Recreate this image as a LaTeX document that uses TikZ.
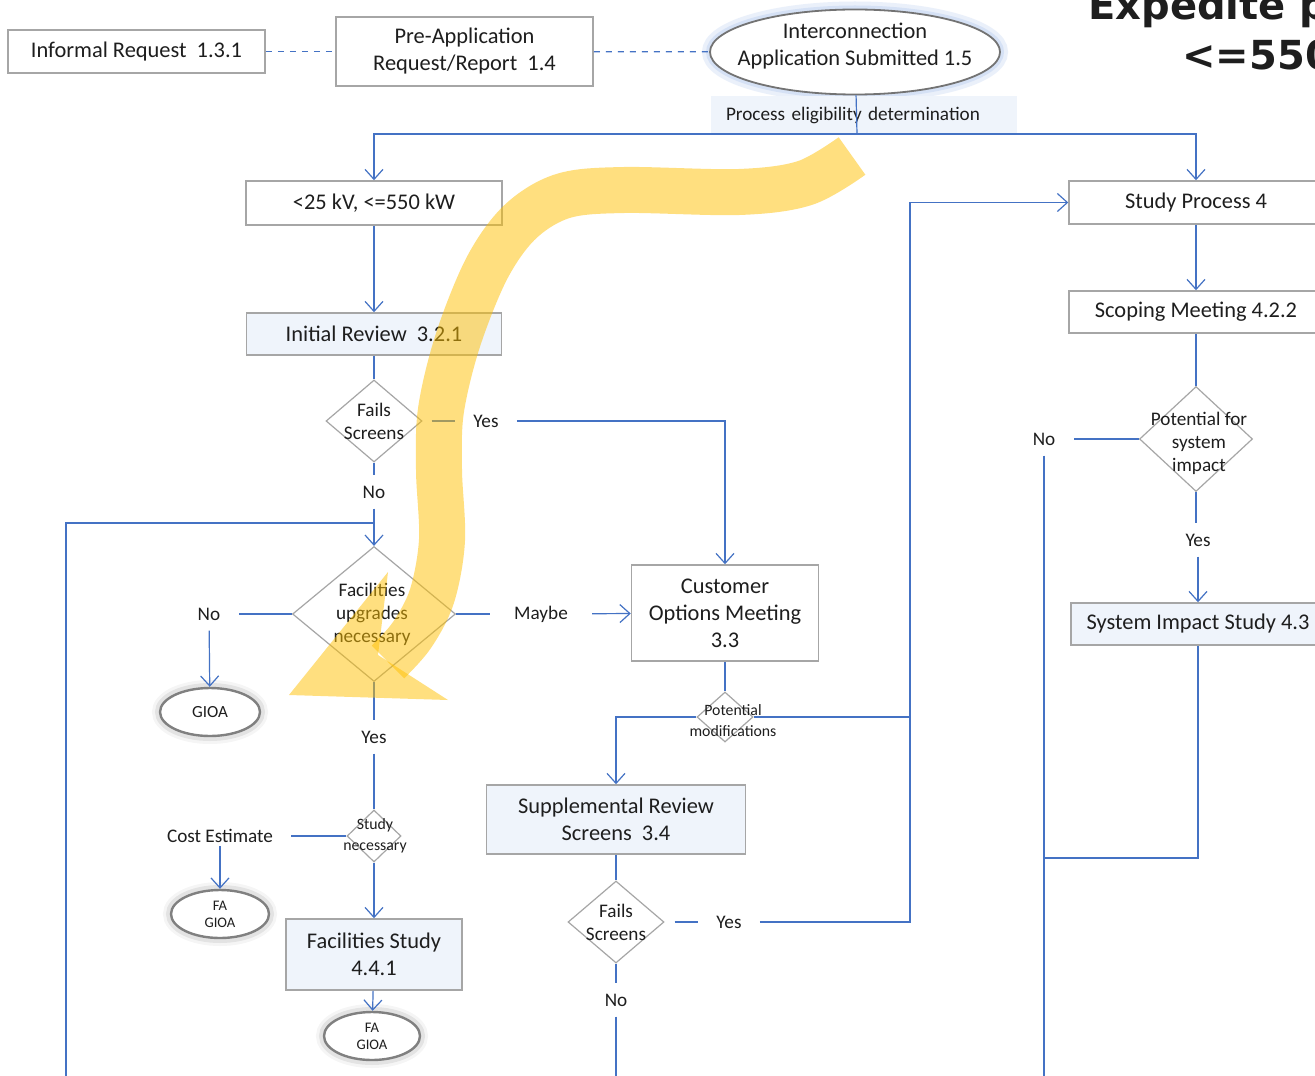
\documentclass[tikz,border=0pt]{standalone}
\usepackage{fontspec}
\setmainfont{Carlito}
\newfontfamily\headfont{DejaVu Sans}
\usetikzlibrary{shapes.geometric,arrows.meta}
\definecolor{flow}{RGB}{68,114,196}
\definecolor{edge}{RGB}{166,166,166}
\definecolor{pale}{RGB}{239,244,251}
\definecolor{ink}{RGB}{30,30,30}
\definecolor{glow}{RGB}{175,198,238}
\definecolor{hilite}{RGB}{255,192,0}
\begin{document}
\begin{tikzpicture}[x=0.5pt,y=-0.5pt,
    >={Straight Barb[length=5pt,width=9pt]},
    every node/.style={text=ink},
    wire/.style={draw=flow,line width=0.6pt},
    box/.style={rectangle,draw=edge,line width=0.75pt,fill=white,align=center,inner sep=0pt,
      font=\fontsize{11.2}{13.5}\selectfont},
    shaded/.style={box,fill=pale},
    ask/.style={diamond,draw=edge,line width=0.6pt,fill=white,inner sep=0pt},
    say/.style={align=center,inner sep=0pt,font=\fontsize{9.6}{11.5}\selectfont},
    sayS/.style={align=center,inner sep=0pt,font=\fontsize{7.9}{10.5}\selectfont},
    sayL/.style={align=center,inner sep=0pt,font=\fontsize{11.2}{13.5}\selectfont},
    lbl/.style={inner xsep=9pt,inner ysep=5pt,font=\fontsize{9.6}{11.5}\selectfont},
    endpt/.style={ellipse,draw=black!50,line width=1.2pt,fill=white,align=center,inner sep=0pt,
      preaction={draw=black,opacity=0.04,line width=8pt},
      preaction={draw=black,opacity=0.07,line width=5pt}}]
  \useasboundingbox (0,0) rectangle (1315,1075);
  \clip (0,0) rectangle (1315,1075);
  \fill[white] (0,0) rectangle (1315,1075);

  \node[anchor=base west,inner sep=0pt,font=\headfont\bfseries\fontsize{20}{22}\selectfont] at (1088,20) (head1) {Expedite p};
  \node[anchor=base west,inner sep=0pt,font=\headfont\bfseries\fontsize{20}{22}\selectfont] at (1182,70) (head2) {<=550};

  \node[box,minimum width=128.5pt,minimum height=21.5pt] at (136.5,51.5) (inf) {Informal Request\ \ 1.3.1};
  \node[box,minimum width=128.5pt,minimum height=34.5pt] at (464.5,51.5) (pre) {Pre-Application\\Request/Report\ \ 1.4};
  \node[ellipse,draw=black!55,line width=0.9pt,fill=white,inner sep=0pt,
    minimum width=145pt,minimum height=42.5pt,
    preaction={draw=glow,opacity=0.25,line width=8pt},
    preaction={draw=glow,opacity=0.35,line width=4pt},
    label={[sayL,yshift=3pt]center:Interconnection\\Application Submitted 1.5}] at (855,52) (app) {};
  \node[fill=pale,minimum width=153pt,minimum height=19pt,text width=138pt,inner xsep=7.5pt,align=left,
    font=\fontsize{9.6}{11.5}\selectfont] at (864,115) (elig) {Process eligibility determination};
  \coordinate (split) at (857,134);

  \node[box,minimum width=128pt,minimum height=22pt] at (374,203) (lowv) {<25 kV, <=550 kW};
  \node[shaded,minimum width=127.5pt,minimum height=21pt] at (374,334) (irev) {Initial Review\ \ 3.2.1};
  \node[ask,minimum width=48pt,minimum height=41pt,label={[say]center:Fails\\Screens}] at (374,421) (fs1) {};
  \node[lbl] at (486,421) (yes1) {Yes};
  \node[lbl] at (374,492) (no1) {No};
  \coordinate (merge1) at (374,523);
  \coordinate (lbot) at (66,1085);
  \node[ask,minimum width=81.5pt,minimum height=67.5pt,label={[say,xshift=-1pt]center:Facilities\\upgrades\\necessary}] at (374,614) (fun) {};
  \node[lbl] at (209,614) (no2) {No};
  \node[endpt,minimum width=50pt,minimum height=24pt,font=\fontsize{8.5}{10}\selectfont] at (210,712) (gioa1) {GIOA};
  \node[lbl,inner xsep=12pt] at (541,614) (maybe) {Maybe};
  \node[box,minimum width=93.5pt,minimum height=48pt] at (725,613) (com) {Customer\\Options Meeting\\3.3};
  \node[lbl] at (374,737) (yes2) {Yes};
  \node[ask,minimum width=27pt,minimum height=26pt,label={[sayS,xshift=0.5pt]center:Study\\necessary}] at (374,836) (snec) {};
  \node[lbl,inner ysep=1.5pt] at (220,836) (cost) {Cost Estimate};
  \node[endpt,minimum width=49pt,minimum height=24pt,font=\fontsize{7.3}{8.5}\selectfont] at (220,914) (fagioa1) {FA\\GIOA};
  \node[shaded,minimum width=88pt,minimum height=35.5pt] at (374,954.5) (fstudy) {Facilities Study\\4.4.1};
  \node[endpt,minimum width=48pt,minimum height=24pt,font=\fontsize{7.3}{8.5}\selectfont] at (372,1036) (fagioa2) {FA\\GIOA};

  \node[ask,minimum width=28pt,minimum height=25pt,label={[sayS,xshift=4pt,yshift=-2pt]center:Potential\\modifications}] at (725,717) (pmod) {};
  \coordinate (colx) at (910,717);
  \node[shaded,minimum width=129.5pt,minimum height=34.5pt] at (616,819.5) (srs) {Supplemental Review\\Screens\ \ 3.4};
  \node[ask,minimum width=48pt,minimum height=41pt,label={[say]center:Fails\\Screens}] at (616,922) (fs2) {};
  \node[lbl] at (729,922) (yes3) {Yes};
  \node[lbl] at (616,1000) (no3) {No};
  \coordinate (bot3) at (616,1085);

  \node[box,minimum width=127pt,minimum height=21.5pt] at (1196,202.5) (sp4) {Study Process 4};
  \node[box,minimum width=127pt,minimum height=21pt] at (1196,312) (scope) {Scoping Meeting 4.2.2};
  \node[ask,minimum width=56.5pt,minimum height=52.5pt,label={[say,xshift=1.5pt,yshift=-2pt]center:Potential for\\system\\impact}] at (1196,439) (psi) {};
  \node[lbl] at (1044,439) (no4) {No};
  \coordinate (bot4) at (1044,1085);
  \coordinate (mergeR) at (1044,858);
  \node[lbl] at (1198,540) (yes4) {Yes};
  \node[shaded,minimum width=127pt,minimum height=21pt] at (1198,624) (sis) {System Impact Study 4.3};

  \draw[wire,dashed] (inf) -- (pre);
  \draw[wire,dashed] (pre) -- (app);
  \draw[wire] (app) -- (split);
  \draw[wire,->] (split) -| (lowv);
  \draw[wire,->] (split) -| (sp4);
  \draw[wire,->] (lowv) -- (irev);
  \draw[wire] (irev) -- (fs1);
  \draw[wire,shorten <=4.5pt] (fs1) -- (yes1);
  \draw[wire,->] (yes1) -| (com);
  \draw[wire] (fs1) -- (no1);
  \draw[wire,->] (no1) -- (fun);
  \draw[wire] (lbot) |- (merge1);
  \draw[wire] (fun) -- (no2);
  \draw[wire,->] (no2) -- (gioa1);
  \draw[wire] (fun) -- (maybe);
  \draw[wire,->] (maybe) -- (com);
  \draw[wire] (fun) -- (yes2);
  \draw[wire] (yes2) -- (snec);
  \draw[wire] (snec) -- (cost);
  \draw[wire,->] (cost) -- (fagioa1);
  \draw[wire,->] (snec) -- (fstudy);
  \draw[wire,->] (fstudy) -- (fagioa2);
  \draw[wire] (com) -- (pmod);
  \draw[wire,->] (pmod) -| (srs);
  \draw[wire] (pmod) -- (colx);
  \draw[wire] (srs) -- (fs2);
  \draw[wire,shorten <=5pt] (fs2) -- (yes3);
  \draw[wire,->] (yes3) -| (colx) |- (sp4);
  \draw[wire] (fs2) -- (no3);
  \draw[wire] (no3) -- (bot3);
  \draw[wire,->] (sp4) -- (scope);
  \draw[wire] (scope) -- (psi);
  \draw[wire] (psi) -- (no4);
  \draw[wire] (no4) -- (bot4);
  \draw[wire] (psi) -- (psi |- yes4.north);
  \draw[wire,->] (yes4) -- (sis);
  \draw[wire] (sis) |- (mergeR);

  \draw[hilite,opacity=0.5,line width=23pt] plot[smooth,tension=0.55] coordinates {(852,156) (805,183) (739,192) (624,190) (563,196) (520,222) (487,268) (458,340) (441,410) (439,470) (442,540) (432,596) (412,635) (388,662)};
  \fill[hilite,opacity=0.5] (289,695) -- (388,572) -- (378,655) -- (448,700) -- cycle;
\end{tikzpicture}
\end{document}
